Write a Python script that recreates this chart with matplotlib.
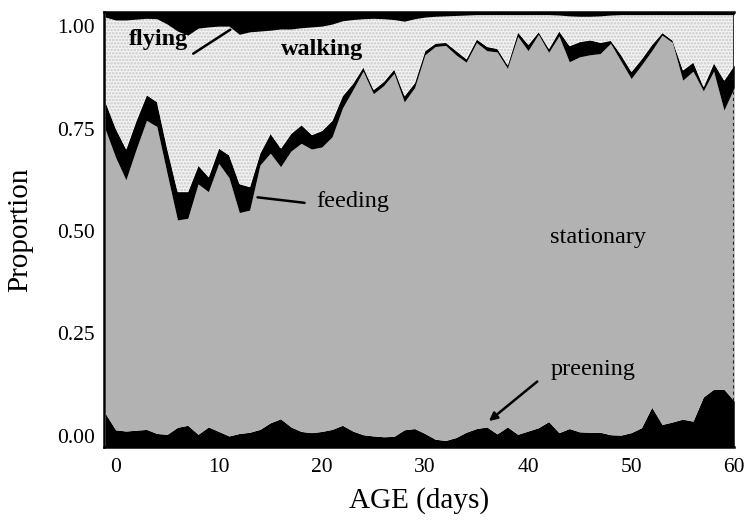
import numpy as np
import matplotlib
matplotlib.use("Agg")
import matplotlib.pyplot as plt

plt.rcParams['font.family'] = ['Liberation Serif', 'DejaVu Serif']
plt.rcParams['hatch.linewidth'] = 1.2

# ages in days
days = np.arange(-1, 61)

# upper edge of each band (stacked, bottom to top)
preening_top = [
    0.055, 0.015, 0.012, 0.014, 0.016, 0.006, 0.004, 0.021, 0.026, 0.004,
    0.022, 0.011, 0.000, 0.006, 0.009, 0.016, 0.032, 0.042, 0.022, 0.011,
    0.008, 0.011, 0.016, 0.026, 0.012, 0.003, 0.000, -0.002, -0.001, 0.015,
    0.018, 0.006, -0.008, -0.011, -0.004, 0.009, 0.018, 0.022, 0.005, 0.022,
    0.004, 0.012, 0.020, 0.035, 0.008, 0.018, 0.010, 0.009, 0.009, 0.003,
    0.002, 0.008, 0.020, 0.070, 0.028, 0.034, 0.041, 0.036, 0.095, 0.114,
    0.114, 0.085,
]
stationary_top = [
    0.748, 0.680, 0.625, 0.700, 0.770, 0.755, 0.640, 0.527, 0.531, 0.615,
    0.596, 0.665, 0.630, 0.545, 0.551, 0.661, 0.690, 0.657, 0.695, 0.714,
    0.700, 0.705, 0.730, 0.800, 0.844, 0.890, 0.835, 0.855, 0.885, 0.815,
    0.850, 0.930, 0.950, 0.953, 0.930, 0.912, 0.960, 0.940, 0.937, 0.897,
    0.975, 0.940, 0.980, 0.936, 0.976, 0.913, 0.925, 0.930, 0.933, 0.958,
    0.915, 0.872, 0.905, 0.940, 0.978, 0.960, 0.868, 0.890, 0.842, 0.890,
    0.795, 0.850,
]
feeding_top = [
    0.815, 0.750, 0.700, 0.770, 0.832, 0.815, 0.700, 0.596, 0.596, 0.660,
    0.632, 0.702, 0.685, 0.615, 0.608, 0.690, 0.738, 0.702, 0.738, 0.759,
    0.735, 0.745, 0.770, 0.830, 0.860, 0.900, 0.845, 0.865, 0.895, 0.830,
    0.862, 0.940, 0.958, 0.960, 0.940, 0.920, 0.968, 0.950, 0.945, 0.905,
    0.985, 0.955, 0.986, 0.945, 0.988, 0.952, 0.962, 0.966, 0.960, 0.965,
    0.930, 0.889, 0.920, 0.955, 0.984, 0.965, 0.893, 0.912, 0.852, 0.910,
    0.868, 0.905,
]
walking_top = [
    1.022, 1.015, 1.015, 1.017, 1.019, 1.018, 1.005, 0.988, 0.978, 0.995,
    0.998, 1.000, 1.000, 0.980, 0.986, 0.988, 0.990, 0.993, 0.993, 0.996,
    0.998, 1.000, 1.005, 1.013, 1.016, 1.018, 1.019, 1.018, 1.016, 1.012,
    1.018, 1.022, 1.024, 1.025, 1.026, 1.027, 1.028, 1.028, 1.028, 1.028,
    1.028, 1.028, 1.028, 1.028, 1.027, 1.025, 1.024, 1.024, 1.025, 1.027,
    1.028, 1.028, 1.028, 1.028, 1.028, 1.028, 1.028, 1.028, 1.028, 1.028,
    1.028, 1.028,
]

y_bottom, y_top = -0.027, 1.034
x_ticks = [0, 10, 20, 30, 40, 50, 60]
y_ticks = [0.0, 0.25, 0.5, 0.75, 1.0]

fig = plt.figure(figsize=(7.5, 5.29), dpi=100)
ax = fig.add_axes([0.139, 0.155, 0.840, 0.822])

ax.fill_between(days, y_bottom, preening_top, color='black', lw=0)
ax.fill_between(days, preening_top, stationary_top, color='#b2b2b2', lw=0)
ax.fill_between(days, stationary_top, feeding_top, color='black', lw=0)
ax.fill_between(days, feeding_top, walking_top, facecolor='#f3f3f3',
                edgecolor='#c8c8c8', hatch='.....', lw=0)
ax.fill_between(days, walking_top, y_top, color='black', lw=0)

ax.set_xlim(-1.1, 60)
ax.set_ylim(y_bottom, y_top)
ax.set_xticks(x_ticks)
ax.set_yticks(y_ticks)
ax.set_yticklabels([f"{t:.2f}" for t in y_ticks])
ax.tick_params(length=0, labelsize=15.5)
ax.tick_params(axis='y', pad=7)
ax.tick_params(axis='x', pad=8)

for side in ['left', 'top', 'bottom']:
    ax.spines[side].set_linewidth(1.8)
ax.spines['right'].set_visible(False)
# right edge: solid where the black bands are, dotted over the grey band
ax.vlines(days[-1], y_bottom, preening_top[-1], color='black', lw=1.8)
ax.vlines(days[-1], preening_top[-1], stationary_top[-1], color='#222222',
          lw=1.5, linestyles=(0, (1.5, 1.5)))
ax.vlines(days[-1], stationary_top[-1], y_top, color='black', lw=1.8)

ax.set_xlabel('AGE (days)', fontsize=21, labelpad=7)
ax.set_ylabel('Proportion', fontsize=21, labelpad=17)

ax.text(4.2, 0.968, 'flying', fontsize=17.5, fontweight='bold',
        ha='center', va='center')
ax.annotate('', xy=(11.35, 0.995), xytext=(7.3, 0.929),
            arrowprops=dict(arrowstyle='-', color='black', lw=1.8))
ax.text(20.05, 0.944, 'walking', fontsize=17.5, fontweight='bold',
        ha='center', va='center')
ax.text(23.0, 0.571, 'feeding', fontsize=17.5, ha='center', va='center')
ax.annotate('', xy=(13.5, 0.583), xytext=(18.6, 0.568),
            arrowprops=dict(arrowstyle='-', color='black', lw=1.8))
ax.text(46.8, 0.485, 'stationary', fontsize=17.5, ha='center', va='center')
ax.text(46.3, 0.161, 'preening', fontsize=17.5, ha='center', va='center')
ax.annotate('', xy=(36.0, 0.032), xytext=(41.1, 0.137),
            arrowprops=dict(arrowstyle='-|>', color='black', lw=1.8,
                            mutation_scale=12))

fig.savefig('out.png', dpi=100)
